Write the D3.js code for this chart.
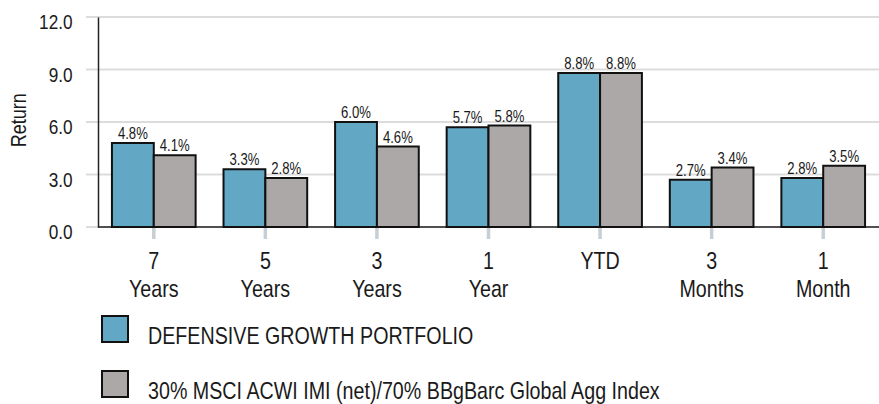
<!DOCTYPE html>
<html>
<head>
<meta charset="utf-8">
<script src="https://cdn.jsdelivr.net/npm/d3@7"></script>
<style>
  body { margin: 0; background: #fff; }
  text { font-family: "Liberation Sans", Arial, sans-serif; fill: #1a1a1a; }
</style>
</head>
<body>
<svg id="chart" width="879" height="404"></svg>
<script>
// periods on the x axis (two lines each)
let periods = ["7 Years", "5 Years", "3 Years", "1 Year", "YTD", "3 Months", "1 Month"];
let periodLines = [["7", "Years"], ["5", "Years"], ["3", "Years"], ["1", "Year"], ["YTD"], ["3", "Months"], ["1", "Month"]];

let seriesNames = ["DEFENSIVE GROWTH PORTFOLIO", "30% MSCI ACWI IMI (net)/70% BBgBarc Global Agg Index"];
let portfolio = [4.8, 3.3, 6.0, 5.7, 8.8, 2.7, 2.8];
let benchmark = [4.1, 2.8, 4.6, 5.8, 8.8, 3.4, 3.5];

let yTicks = [0, 3, 6, 9, 12];
let colors = ["#62a7c3", "#aca8a7"];

// squeeze text horizontally to mimic a narrow font
let squeeze = 0.82;

let margin = { left: 98, right: 0, top: 17, bottom: 177 };
let width = 879 - margin.left - margin.right;
let height = 404 - margin.top - margin.bottom;

let svg = d3.select("#chart");
let g = svg.append("g")
    .attr("transform", "translate(" + margin.left + "," + margin.top + ")");

function narrowText(parent, x, y, str, size, anchor) {
    return parent.append("text")
        .attr("transform", "translate(" + x + "," + y + ") scale(" + squeeze + ",1)")
        .attr("text-anchor", anchor || "start")
        .style("font-size", size + "px")
        .text(str);
}

let x = d3.scaleBand()
    .domain(periods)
    .range([0, width])
    .paddingInner(0.25)
    .paddingOuter(0.125);

let xSub = d3.scaleBand()
    .domain([0, 1])
    .range([0, x.bandwidth()]);

let y = d3.scaleLinear()
    .domain([0, 12])
    .range([height, 0]);

// gridlines
g.append("g")
    .selectAll("line")
    .data(yTicks)
    .enter().append("line")
    .attr("x1", -12)
    .attr("x2", width)
    .attr("y1", d => y(d))
    .attr("y2", d => y(d))
    .attr("stroke", "#dcdcdc")
    .attr("stroke-width", 2);

// x ticks (grey stubs below the baseline)
g.append("g")
    .selectAll("line")
    .data(periods)
    .enter().append("line")
    .attr("x1", d => x(d) + x.bandwidth() / 2)
    .attr("x2", d => x(d) + x.bandwidth() / 2)
    .attr("y1", height)
    .attr("y2", height + 12)
    .attr("stroke", "#c8ced3")
    .attr("stroke-width", 3.5);

// y axis
let yAxis = g.append("g")
    .call(d3.axisLeft(y).tickValues(yTicks).tickFormat(d3.format(".1f")).tickSize(0).tickPadding(31));
yAxis.select(".domain").attr("stroke", "#222").attr("stroke-width", 1.5);
yAxis.selectAll("text")
    .attr("dy", "0.55em")
    .attr("transform", "scale(" + squeeze + ",1)")
    .style("font-size", "21px")
    .style("font-family", "Liberation Sans, Arial, sans-serif")
    .attr("fill", "#1a1a1a");

// baseline
g.append("line")
    .attr("x1", 0)
    .attr("x2", width)
    .attr("y1", y(0))
    .attr("y2", y(0))
    .attr("stroke", "#222")
    .attr("stroke-width", 1.5);

// bars
let rows = periods.map((p, i) => ({ period: p, values: [portfolio[i], benchmark[i]] }));

let groups = g.append("g")
    .selectAll("g")
    .data(rows)
    .enter().append("g")
    .attr("transform", d => "translate(" + x(d.period) + ",0)");

groups.selectAll("rect")
    .data(d => d.values.map((v, k) => ({ k: k, v: v })))
    .enter().append("rect")
    .attr("x", d => xSub(d.k))
    .attr("y", d => y(d.v))
    .attr("width", xSub.bandwidth())
    .attr("height", d => y(0) - y(d.v))
    .attr("fill", d => colors[d.k])
    .attr("stroke", "#111")
    .attr("stroke-width", 2);

groups.each(function(d) {
    let grp = d3.select(this);
    d.values.forEach((v, k) => {
        narrowText(grp, xSub(k) + xSub.bandwidth() / 2, y(v) - 4, v.toFixed(1) + "%", 16, "middle");
    });
});

// x labels
let xLabels = g.append("g");
periods.forEach((p, i) => {
    periodLines[i].forEach((line, j) => {
        narrowText(xLabels, x(p) + x.bandwidth() / 2, height + 42 + j * 28, line, 24, "middle");
    });
});

// y title
svg.append("text")
    .attr("transform", "translate(26," + (margin.top + y(6.1)) + ") rotate(-90) scale(" + squeeze + ",1)")
    .attr("text-anchor", "middle")
    .style("font-size", "22px")
    .text("Return");

// legend
let legend = svg.append("g");
seriesNames.forEach((name, i) => {
    let row = legend.append("g")
        .attr("transform", "translate(102," + (316 + i * 55) + ")");
    row.append("rect")
        .attr("width", 26)
        .attr("height", 26)
        .attr("fill", colors[i])
        .attr("stroke", "#111")
        .attr("stroke-width", 2);
    narrowText(row, 46, 28, name, 24, "start");
});
</script>
</body>
</html>
